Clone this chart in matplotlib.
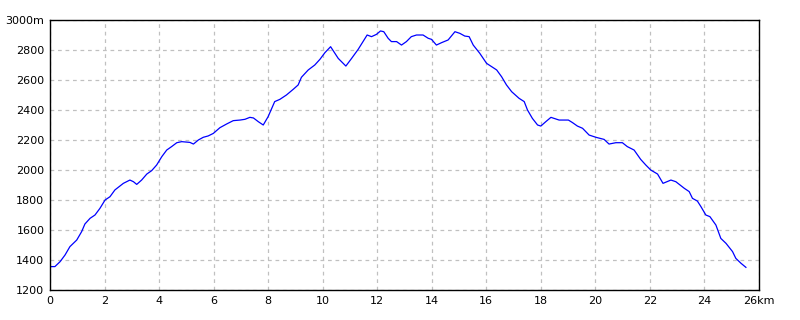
import matplotlib
matplotlib.use("Agg")
import matplotlib.pyplot as plt

dist_km = [0.0, 0.18, 0.37, 0.55, 0.73, 0.98, 1.16, 1.28, 1.47, 1.65, 1.83, 2.02, 2.2, 2.38, 2.69, 2.93,
           3.06, 3.18, 3.36, 3.55, 3.73, 3.91, 4.1, 4.28, 4.46, 4.65, 4.83, 5.13, 5.26, 5.44, 5.62, 5.8,
           5.99, 6.23, 6.48, 6.72, 6.97, 7.15, 7.33, 7.46, 7.64, 7.82, 8.0, 8.24, 8.43, 8.67, 8.92, 9.1,
           9.22, 9.47, 9.71, 9.9, 10.08, 10.29, 10.57, 10.85, 11.06, 11.3, 11.48, 11.63, 11.79, 11.97,
           12.12, 12.24, 12.4, 12.52, 12.71, 12.89, 13.07, 13.25, 13.44, 13.68, 13.87, 13.99, 14.17,
           14.36, 14.6, 14.85, 15.03, 15.21, 15.37, 15.52, 15.76, 16.01, 16.38, 16.56, 16.74, 16.93,
           17.2, 17.39, 17.51, 17.69, 17.88, 18.0, 18.18, 18.37, 18.49, 18.67, 19.01, 19.16, 19.34,
           19.53, 19.77, 20.02, 20.32, 20.5, 20.75, 20.99, 21.17, 21.42, 21.66, 21.85, 22.03, 22.28,
           22.48, 22.77, 22.95, 23.26, 23.44, 23.56, 23.74, 23.87, 24.05, 24.2, 24.42, 24.6, 24.79,
           25.03, 25.15, 25.34, 25.52]
elev_m = [1356, 1356, 1389, 1433, 1489, 1533, 1589, 1640, 1678, 1700, 1744, 1800, 1822, 1867, 1911, 1933,
          1922, 1904, 1933, 1973, 1996, 2033, 2089, 2133, 2156, 2182, 2189, 2184, 2173, 2200, 2218, 2227,
          2244, 2282, 2307, 2329, 2333, 2338, 2351, 2347, 2322, 2300, 2356, 2456, 2471, 2500, 2538, 2567,
          2618, 2667, 2700, 2738, 2782, 2822, 2744, 2693, 2744, 2804, 2856, 2900, 2889, 2904,
          2927, 2922, 2878, 2856, 2856, 2833, 2856, 2889, 2900, 2900, 2878, 2871, 2833,
          2849, 2867, 2922, 2911, 2893, 2889, 2833, 2778, 2711, 2667, 2622, 2567, 2522,
          2478, 2456, 2400, 2344, 2300, 2293, 2322, 2351, 2344, 2333, 2333, 2316, 2293,
          2278, 2233, 2218, 2204, 2173, 2182, 2182, 2156, 2133, 2071, 2033, 2000, 1973,
          1911, 1933, 1922, 1878, 1856, 1811, 1793, 1756, 1700, 1689, 1633, 1544, 1511,
          1456, 1411, 1378, 1351]

x_ticks = list(range(0, 27, 2))
x_labels = [str(v) for v in x_ticks[:-1]] + ["26km"]
y_ticks = list(range(1200, 3001, 200))
y_labels = [str(v) for v in y_ticks[:-1]] + ["3000m"]

fig = plt.figure(figsize=(8, 3.2), dpi=100)
ax = fig.add_axes([50/800, 30/320, 709/800, 270/320])
ax.plot(dist_km, elev_m, color="#0000ff", lw=0.9)
ax.set_xlim(0, 26)
ax.set_ylim(1200, 3000)
ax.set_xticks(x_ticks)
ax.set_xticklabels(x_labels)
ax.set_yticks(y_ticks)
ax.set_yticklabels(y_labels)
ax.grid(True, color="#c0c0c0", linestyle=(0, (3, 3)), lw=0.9)
ax.tick_params(length=0, labelsize=8, pad=4)
for s in ax.spines.values():
    s.set_color("black")
    s.set_linewidth(1.0)
fig.savefig("out.png", dpi=100)
